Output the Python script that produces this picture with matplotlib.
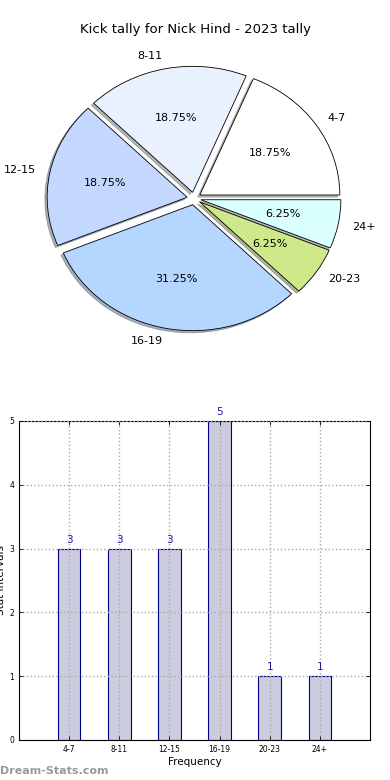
import matplotlib
matplotlib.use("Agg")
import matplotlib.pyplot as plt

categories = ["4-7", "8-11", "12-15", "16-19", "20-23", "24+"]
counts = [3, 3, 3, 5, 1, 1]
pie_colors = ["#ffffff", "#eaf1fe", "#c4d8ff", "#b5d6ff", "#cfe98a", "#d9ffff"]
title = "Kick tally for Nick Hind - 2023 tally"

fig = plt.figure(figsize=(3.9, 7.8), dpi=100)

# Pie chart (slightly squashed vertically as in the reference)
axp = fig.add_axes([19 / 390, 1 - 356 / 780, 350 / 390, 315 / 780])
wedges, texts, autotexts = axp.pie(
    counts, labels=categories, colors=pie_colors, explode=[0.05] * 6,
    autopct="%1.2f%%", startangle=0, counterclock=True,
    shadow=dict(ox=-0.012, oy=-0.012, shade=0.55),
    wedgeprops=dict(edgecolor="black", linewidth=0.6),
    textprops=dict(fontsize=8), labeldistance=1.1, pctdistance=0.6)
axp.set_aspect("auto")
axp.set_xlim(-1.25, 1.25)
axp.set_ylim(-1.25, 1.25)
axp.axis("off")
fig.text(0.5, 1 - 30 / 780, title, ha="center", va="center", fontsize=9.5)

# Bar chart
axb = fig.add_axes([0.0487, 0.0513, 0.9, 0.409])
x = list(range(len(categories)))
axb.bar(x, counts, width=0.45, color="#ccccdf", edgecolor="#00008b", linewidth=0.8, zorder=2)
axb.set_xlim(-1, 6)
axb.set_ylim(0, 5)
axb.set_xticks(x)
axb.set_xticklabels(categories, fontsize=5.5)
axb.set_yticks([0, 1, 2, 3, 4, 5])
axb.tick_params(axis="y", labelsize=5.5)
axb.tick_params(direction="in", top=True, right=True, length=3, width=0.6)
axb.grid(True, linestyle=":", color="#aaaaaa", linewidth=1.0, zorder=0)
axb.set_axisbelow(False)
for i, v in enumerate(counts):
    axb.text(i, v + 0.06, str(v), ha="center", va="bottom", fontsize=7.5, color="#1a1a9a")
axb.set_xlabel("Frequency", fontsize=7.5, labelpad=2)
axb.set_ylabel("Stat Intervals", fontsize=7.5, labelpad=2)
for s in axb.spines.values():
    s.set_linewidth(0.8)

fig.text(0.0, 1 - 771 / 780, "Dream-Stats.com", ha="left", va="center",
         fontsize=8, color="#999999", fontweight="bold")

fig.savefig("out.png", dpi=100)
